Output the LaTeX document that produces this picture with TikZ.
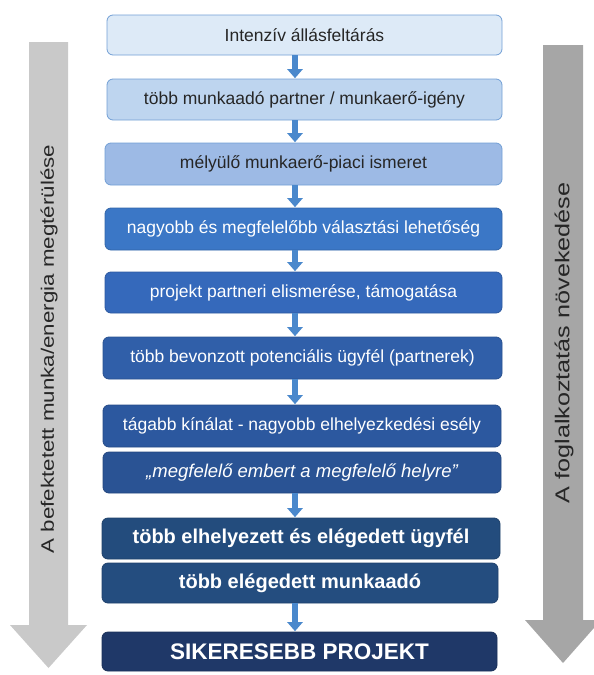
\documentclass[tikz,border=0pt]{standalone}
\usepackage{fontspec}
\setmainfont{Liberation Sans}
\usetikzlibrary{arrows.meta}
\definecolor{fa}{HTML}{DDEAF7}
\definecolor{fb}{HTML}{BED5EF}
\definecolor{fc}{HTML}{9DBAE5}
\definecolor{fd}{HTML}{3B77C6}
\definecolor{fe}{HTML}{3569BB}
\definecolor{ff}{HTML}{305FA9}
\definecolor{fg}{HTML}{2C589F}
\definecolor{fh}{HTML}{2A5394}
\definecolor{fi}{HTML}{234C7D}
\definecolor{fj}{HTML}{244D7F}
\definecolor{fk}{HTML}{1F3868}
\definecolor{lightedge}{HTML}{729FD5}
\definecolor{txtdark}{HTML}{262626}
\definecolor{conn}{HTML}{4A88CC}
\definecolor{grayL}{HTML}{C9C9C9}
\definecolor{grayR}{HTML}{A6A6A6}
\begin{document}
\begin{tikzpicture}[x=1pt,y=-1pt,
  box/.style={rectangle, rounded corners=6pt, inner sep=0pt, line width=0.8pt,
    font=\fontsize{17.5}{20}\selectfont},
  lightbox/.style={box, fill=#1, draw=lightedge, text=txtdark},
  darkbox/.style={box, fill=#1, draw=#1!85!black, text=white},
  boldtext/.style={font=\fontsize{20}{22}\bfseries\selectfont},
  conarrow/.style={line width=6pt, conn, -{Triangle[width=15pt,length=9pt]}, shorten >=0.4pt}
]
\useasboundingbox (0,0) rectangle (594,675);
\clip (0,0) rectangle (594,675);

% side arrows
\fill[grayL] (29,42) -- (68,42) -- (68,625) -- (87,625) -- (48.5,668) -- (10,625) -- (29,625) -- cycle;
\fill[grayR] (543,45) -- (583,45) -- (583,620) -- (601,620) -- (563,663) -- (525,620) -- (543,620) -- cycle;
\node[rotate=90, inner sep=0pt, text=txtdark, font=\fontsize{18}{20}\selectfont] (lt) at (49,349)
  {\scalebox{1.24}[1]{A befektetett munka/energia megtérülése}};
\node[rotate=90, inner sep=0pt, text=txtdark, font=\fontsize{20}{22}\selectfont] (rt) at (564,343)
  {\scalebox{1.26}[1]{A foglalkoztatás növekedése}};

% boxes
\node[lightbox=fa, minimum width=395pt, minimum height=40pt] (b1) at (304.5,35) {Intenzív állásfeltárás};
\node[lightbox=fb, minimum width=395pt, minimum height=41pt] (b2) at (304.5,99.5) {több munkaadó partner / munkaerő-igény};
\node[lightbox=fc, minimum width=397pt, minimum height=42pt] (b3) at (303.5,164) {mélyülő munkaerő-piaci ismeret};
\node[darkbox=fd, minimum width=397pt, minimum height=42pt] (b4) at (303.5,229) {nagyobb és megfelelőbb választási lehetőség};
\node[darkbox=fe, minimum width=397pt, minimum height=41pt] (b5) at (303.5,292.5) {projekt partneri elismerése, támogatása};
\node[darkbox=ff, minimum width=399pt, minimum height=42pt] (b6) at (302.5,358) {több bevonzott potenciális ügyfél (partnerek)};
\node[darkbox=fg, minimum width=398pt, minimum height=42pt] (b7) at (302,426) {tágabb kínálat - nagyobb elhelyezkedési esély};
\node[darkbox=fh, minimum width=398pt, minimum height=41pt, font=\fontsize{18.5}{20}\itshape\selectfont] (b8) at (302,472.5) {„megfelelő embert a megfelelő helyre”};
\node[darkbox=fi, boldtext, minimum width=398pt, minimum height=41pt] (b9) at (301,538.5) {több elhelyezett és elégedett ügyfél};
\node[darkbox=fj, boldtext, minimum width=396pt, minimum height=40pt] (b10) at (300,583) {több elégedett munkaadó};
\node[darkbox=fk, font=\fontsize{22.5}{24}\bfseries\selectfont, minimum width=395pt, minimum height=39pt] (b11) at (299.5,651.5) {SIKERESEBB PROJEKT};

% connectors
\coordinate (ax) at (295,0);
\draw[conarrow] (b1.south -| ax) -- (b2.north -| ax);
\draw[conarrow] (b2.south -| ax) -- (b3.north -| ax);
\draw[conarrow] (b3.south -| ax) -- (b4.north -| ax);
\draw[conarrow] (b4.south -| ax) -- (b5.north -| ax);
\draw[conarrow] (b5.south -| ax) -- (b6.north -| ax);
\draw[conarrow] (b6.south -| ax) -- (b7.north -| ax);
\draw[conarrow] (b8.south -| ax) -- (b9.north -| ax);
\draw[conarrow] (b10.south -| ax) -- (b11.north -| ax);
\end{tikzpicture}
\end{document}
